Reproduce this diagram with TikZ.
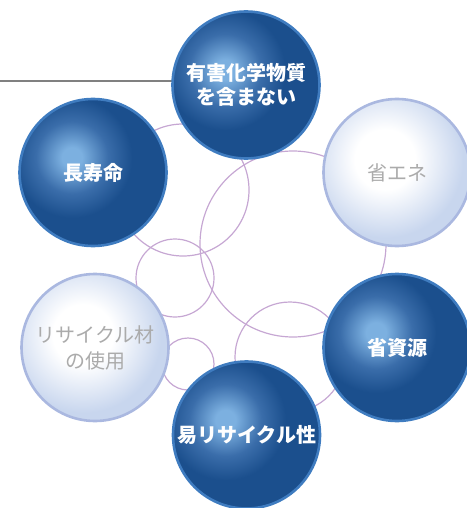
\documentclass[tikz,border=0pt]{standalone}
\usepackage{fontspec}
\newfontfamily\jpfont[BoldFont={Noto Sans CJK JP Black}]{Noto Sans CJK JP}
\usetikzlibrary{positioning,backgrounds}
\definecolor{ballhi}{HTML}{7CB0E0}
\definecolor{ballmid}{HTML}{3A6DAA}
\definecolor{balldeep}{HTML}{1B4F8D}
\definecolor{ballrim}{HTML}{3F7CC0}
\definecolor{palehi}{HTML}{FFFFFF}
\definecolor{paledeep}{HTML}{C8D6EE}
\definecolor{palerim}{HTML}{AAB8E0}
\definecolor{ringcol}{HTML}{C6A7D3}
% glows are placed at their natural size (1bp ~ 1px)
\pgfdeclareradialshading{balldark}{\pgfpointorigin}{color(0bp)=(ballhi); color(10bp)=(ballhi); color(36bp)=(ballmid); color(60bp)=(balldeep); color(140bp)=(balldeep)}
\pgfdeclareradialshading{balllight}{\pgfpointorigin}{color(0bp)=(palehi); color(30bp)=(palehi); color(78bp)=(paledeep); color(140bp)=(paledeep)}
\tikzset{
	ball/.style={circle, minimum size=147pt, inner sep=0pt, line width=2.6pt,
		align=center, font=\jpfont\fontsize{20.5pt}{24pt}\selectfont},
	glow/.style 2 args={path picture={\node[inner sep=0pt]
		at ([shift={#2}]path picture bounding box.center) {\pgfuseshading{#1}};}},
	ball dark/.style={ball, glow={balldark}{(-21pt,15pt)}, draw=ballrim, text=white,
		font=\jpfont\bfseries\fontsize{20pt}{24pt}\selectfont},
	ball light/.style={ball, glow={balllight}{(-12pt,13pt)}, draw=palerim, text=black!33,
		font=\jpfont\fontsize{20pt}{26pt}\selectfont},
	ring/.style={draw=ringcol, line width=1.2pt},
	guide/.style={draw=black!50, line width=1.8pt}
}

\begin{document}
\begin{tikzpicture}[x=1pt,y=-1pt]
	\useasboundingbox (0,0) rectangle (466,508);
	\node[ball dark] (harmful) at (246,85) {有害化学物質\\を含まない};
	\node[ball dark] (longlife) at (93,172.5) {長寿命};
	\node[ball light] (energy) at (397,172.5) {省エネ};
	\node[ball dark] (resource) at (397,347.5) {省資源};
	\node[ball dark] (recycle) at (246.5,435) {易リサイクル性};
	\node[ball light] (material) at (95,347.5) {リサイクル材\\の使用};
	\coordinate (lead) at (0,81);
	\begin{scope}[on background layer]
		\draw[guide] (lead) -- (lead -| harmful.center);
		\foreach \cx/\cy/\r in {183/190/66, 293/244/93, 175/278/39, 188/364/26, 290/357/55}
			\draw[ring] (\cx,\cy) circle[radius=\r];
	\end{scope}
\end{tikzpicture}
\end{document}
